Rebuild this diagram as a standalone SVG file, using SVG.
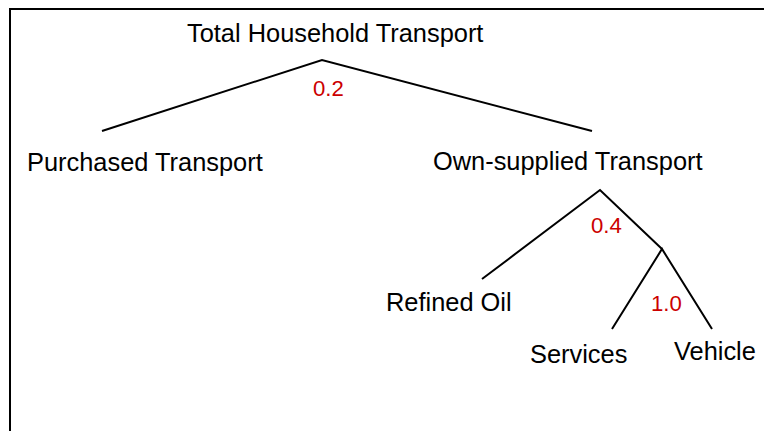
<svg xmlns="http://www.w3.org/2000/svg" width="764" height="431" viewBox="0 0 764 431">
<style>
.lbl{font-family:"Liberation Sans",Arial,sans-serif;font-size:25.4px;fill:#000}
.num{font-family:"Liberation Sans",Arial,sans-serif;font-size:22.2px;fill:#cc0000}
.ln{stroke:#000;stroke-width:2;fill:none}
</style>
<rect x="0" y="0" width="764" height="431" fill="#fff"/>
<path d="M10,440 V9 H770" class="ln"/>
<g id="connectors">
<polyline class="ln" points="102,131 322,60 592,131"/>
<polyline class="ln" points="482,279 600,190 662,249"/>
<polyline class="ln" points="612,329 662,249 712,329"/>
</g>
<g id="n-total"><text class="lbl" x="187" y="42">Total Household Transport</text></g>
<g id="n-purchased"><text class="lbl" x="27" y="171">Purchased Transport</text></g>
<g id="n-own"><text class="lbl" x="433" y="170">Own-supplied Transport</text></g>
<g id="n-oil"><text class="lbl" x="386" y="311">Refined Oil</text></g>
<g id="n-services"><text class="lbl" x="530" y="363">Services</text></g>
<g id="n-vehicle"><text class="lbl" x="674" y="360">Vehicle</text></g>
<g id="labels">
<text class="num" x="313" y="96">0.2</text>
<text class="num" x="591" y="233">0.4</text>
<text class="num" x="651" y="311">1.0</text>
</g>
</svg>
